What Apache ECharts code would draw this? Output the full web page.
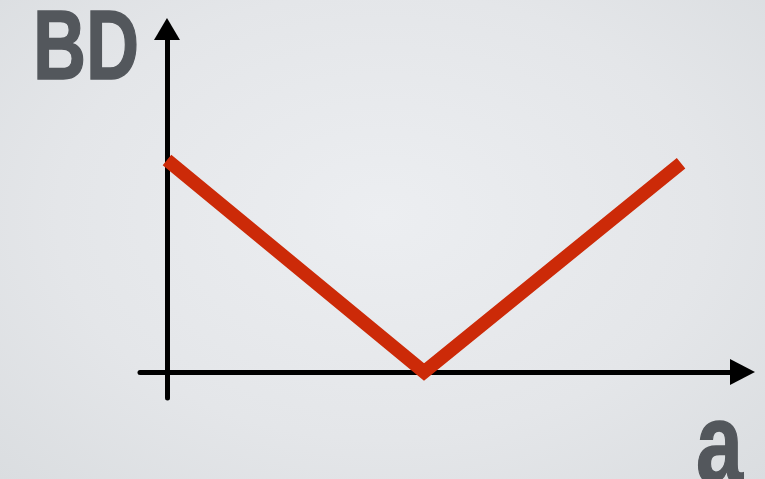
<!DOCTYPE html>
<html>
<head>
<meta charset="utf-8">
<script src="https://cdn.jsdelivr.net/npm/echarts@6/dist/echarts.min.js"></script>
<style>
  html, body { margin: 0; padding: 0; }
  #chart {
    width: 765px; height: 479px;
    background: radial-gradient(ellipse at 50% 45%, #eceef1 0%, #e4e6e9 60%, #dadde0 100%);
  }
</style>
</head>
<body>
<div id="chart"></div>
<script>
// V-shaped curve: BD as a function of a
const aValues = [0, 1, 2];
const bdValues = [1.0, 0.0, 0.985];

const xLabel = 'a';
const yLabel = 'BD';

const chart = echarts.init(document.getElementById('chart'), null, { renderer: 'canvas' });

const axisLine = (size) => ({
  show: true,
  onZero: true,
  symbol: ['none', 'triangle'],
  symbolSize: size,
  lineStyle: { color: '#000', width: 5 }
});

chart.setOption({
  backgroundColor: 'transparent',
  animation: false,
  grid: { left: 140, top: 29, width: 602.5, height: 369, containLabel: false },
  xAxis: {
    type: 'value',
    min: -0.105, max: 2.239,
    axisLine: axisLine([26, 25]),
    axisTick: { show: false },
    axisLabel: { show: false },
    splitLine: { show: false }
  },
  yAxis: {
    type: 'value',
    min: -0.1226, max: 1.618,
    axisLine: axisLine([26, 22]),
    axisTick: { show: false },
    axisLabel: { show: false },
    splitLine: { show: false }
  },
  series: [{
    type: 'line',
    data: aValues.map((a, i) => [a, bdValues[i]]),
    showSymbol: false,
    symbol: 'none',
    lineStyle: { color: '#cc2a08', width: 13.5, cap: 'butt', join: 'miter' },
    z: 1
  }],
  graphic: [
    {
      type: 'text',
      x: 33, y: 101,
      scaleX: 0.75,
      style: {
        text: yLabel,
        fontFamily: 'Liberation Sans',
        fontWeight: 'bold',
        fontSize: 98,
        fill: '#53575c',
        stroke: '#53575c',
        lineWidth: 1.5,
        align: 'left',
        verticalAlign: 'bottom'
      }
    },
    {
      type: 'text',
      x: 696, y: 508,
      scaleX: 0.74,
      style: {
        text: xLabel,
        fontFamily: 'Liberation Sans',
        fontWeight: 'bold',
        fontSize: 114,
        fill: '#53575c',
        stroke: '#53575c',
        lineWidth: 1.5,
        align: 'left',
        verticalAlign: 'bottom'
      }
    }
  ]
});
</script>
</body>
</html>
